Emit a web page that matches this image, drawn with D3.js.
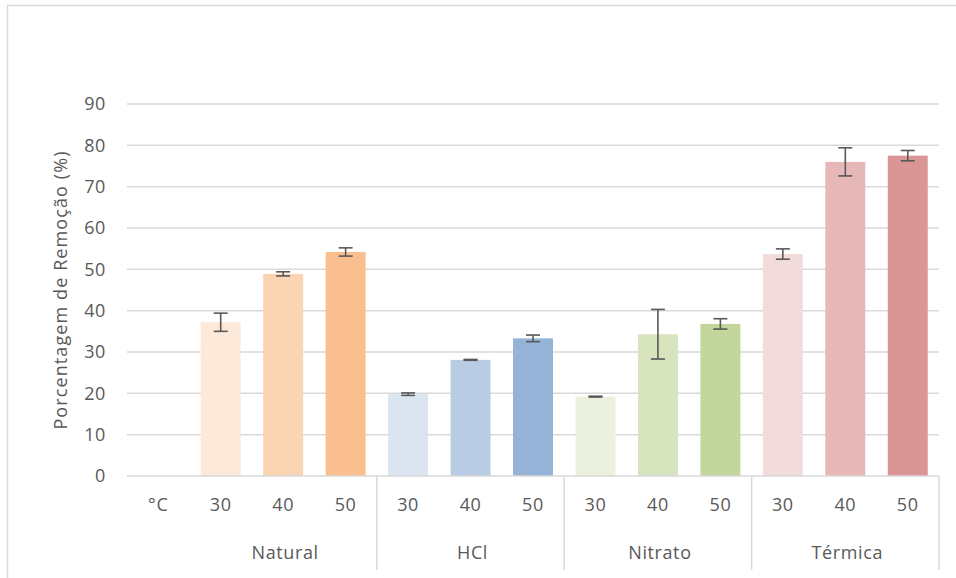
<!DOCTYPE html>
<html>
<head>
<meta charset="utf-8">
<script src="https://cdn.jsdelivr.net/npm/d3@7"></script>
<style>
  html, body { margin: 0; padding: 0; background: #fff; }
  svg { display: block; }
  text { font-family: "Open Sans", "Noto Sans", sans-serif; fill: #595959; }
</style>
</head>
<body>
<svg id="chart" width="956" height="578"></svg>
<script>
// ---- data ----
const groups = ["Natural", "HCl", "Nitrato", "Térmica"];
const temps = ["30", "40", "50"];
const unitLabel = "°C";
const values = [37.2, 48.9, 54.2, 19.8, 28.1, 33.3, 19.2, 34.3, 36.8, 53.7, 76.0, 77.5];
const errors = [2.2, 0.5, 1.0, 0.3, 0.1, 0.8, 0.1, 6.0, 1.25, 1.25, 3.4, 1.25];
const colors = ["#FDE9D9", "#FBD4B4", "#FABF8F",
                "#DBE5F1", "#B8CCE4", "#95B3D7",
                "#EBF1DE", "#D7E4BD", "#C3D69B",
                "#F2DCDB", "#E6B9B8", "#D99694"];
const yTicks = [0, 10, 20, 30, 40, 50, 60, 70, 80, 90];
const yTitle = "Porcentagem de Remoção (%)";

(function () {
// ---- layout ----
const svg = d3.select("#chart");
const pLeft = 127, pRight = 939, pTop = 104, pBottom = 476;
const fs = 18;

const slots = ["unit"];
const bars = [];
groups.forEach((g, gi) => temps.forEach((t, ti) => {
  const key = g + "-" + t;
  slots.push(key);
  bars.push({ key, group: g, temp: t, value: values[gi * 3 + ti], err: errors[gi * 3 + ti], color: colors[gi * 3 + ti] });
}));

const x = d3.scaleBand().domain(slots).range([pLeft, pRight]).paddingInner(0.36).paddingOuter(0.18);
const y = d3.scaleLinear().domain([0, 90]).range([pBottom, pTop]);
const step = x.step();
const cx = d => x(d.key) + x.bandwidth() / 2;

// chart frame
svg.append("rect").attr("x", 7.5).attr("y", 5.5).attr("width", 960).attr("height", 600)
  .attr("fill", "none").attr("stroke", "#D9D9D9").attr("stroke-width", 1.5);

// gridlines
svg.append("g").selectAll("line").data(yTicks.filter(d => d > 0)).join("line")
  .attr("x1", pLeft).attr("x2", pRight)
  .attr("y1", d => y(d)).attr("y2", d => y(d))
  .attr("stroke", "#D9D9D9").attr("stroke-width", 1.5);

// y tick labels
svg.append("g").selectAll("text").data(yTicks).join("text")
  .attr("x", 106).attr("y", d => y(d)).attr("dy", "0.36em")
  .attr("text-anchor", "end").attr("font-size", fs).attr("letter-spacing", 0.6)
  .text(d => d);

// y title
svg.append("text")
  .attr("transform", `translate(67,290) rotate(-90)`)
  .attr("text-anchor", "middle").attr("font-size", fs).attr("letter-spacing", 1.1)
  .text(yTitle);

// bars
svg.append("g").selectAll("rect").data(bars).join("rect")
  .attr("x", d => x(d.key)).attr("width", x.bandwidth())
  .attr("y", d => y(d.value)).attr("height", d => y(0) - y(d.value))
  .attr("fill", d => d.color);

// error bars
const eb = svg.append("g").attr("stroke", "#595959").attr("stroke-width", 1.6);
eb.selectAll("line.v").data(bars).join("line").attr("class", "v")
  .attr("x1", cx).attr("x2", cx)
  .attr("y1", d => y(d.value + d.err)).attr("y2", d => y(d.value - d.err));
eb.selectAll("line.t").data(bars).join("line").attr("class", "t")
  .attr("x1", d => cx(d) - 7).attr("x2", d => cx(d) + 7)
  .attr("y1", d => y(d.value + d.err)).attr("y2", d => y(d.value + d.err));
eb.selectAll("line.b").data(bars).join("line").attr("class", "b")
  .attr("x1", d => cx(d) - 7).attr("x2", d => cx(d) + 7)
  .attr("y1", d => y(d.value - d.err)).attr("y2", d => y(d.value - d.err));

// x axis line
svg.append("line").attr("x1", pLeft).attr("x2", pRight).attr("y1", pBottom).attr("y2", pBottom)
  .attr("stroke", "#D9D9D9").attr("stroke-width", 1.5);

// group separators (right edge of each group)
const sepX = groups.map(g => x(g + "-50") + x.bandwidth() / 2 + step / 2);
svg.append("g").selectAll("line").data(sepX).join("line")
  .attr("x1", d => d).attr("x2", d => d).attr("y1", pBottom).attr("y2", 570)
  .attr("stroke", "#D9D9D9").attr("stroke-width", 1.5);

// temperature labels
const tl = svg.append("g").attr("font-size", fs).attr("letter-spacing", 0.6).attr("text-anchor", "middle");
tl.append("text").attr("x", x("unit") + x.bandwidth() / 2).attr("y", 505).attr("dy", "0.36em").text(unitLabel);
tl.selectAll("text.t").data(bars).join("text").attr("class", "t")
  .attr("x", cx).attr("y", 505).attr("dy", "0.36em").text(d => d.temp);

// group labels
svg.append("g").attr("font-size", fs).attr("letter-spacing", 0.6).attr("text-anchor", "middle")
  .selectAll("text").data(groups).join("text")
  .attr("x", g => (x(g + "-30") + x(g + "-50") + x.bandwidth()) / 2 + 2)
  .attr("y", 553).attr("dy", "0.36em").text(g => g);
})();
</script>
</body>
</html>
